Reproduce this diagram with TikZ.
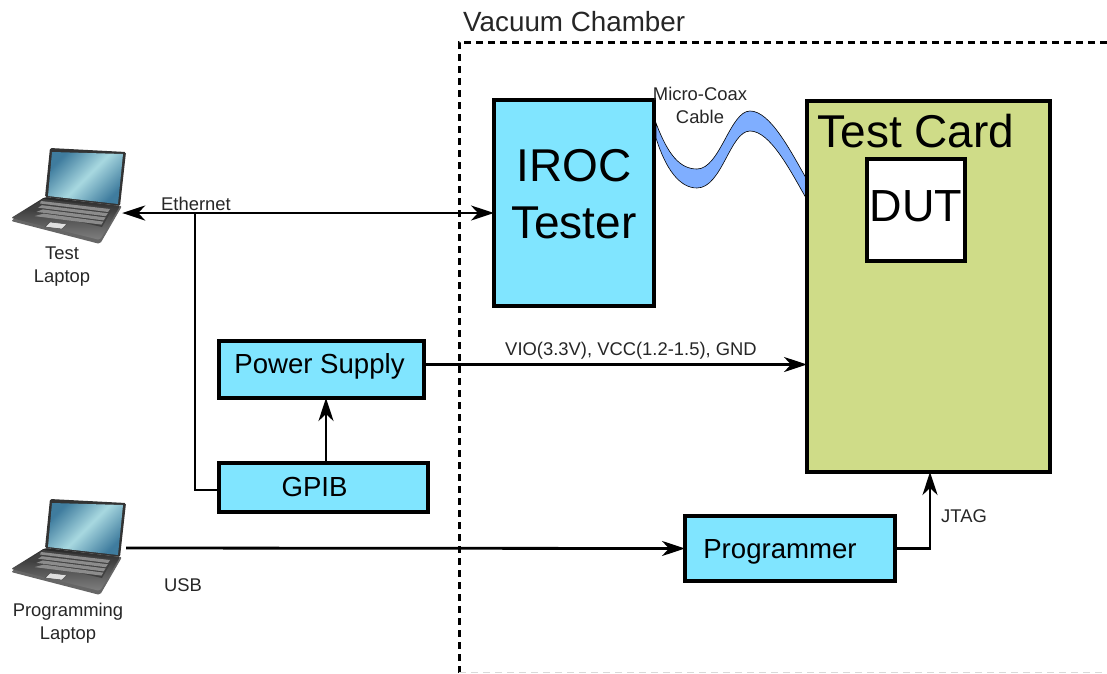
\documentclass[tikz,border=0pt]{standalone}
\usepackage{fontspec}
\setmainfont{Liberation Sans}
\usetikzlibrary{arrows.meta}

\definecolor{boxblue}{HTML}{80E5FF}
\definecolor{cardgreen}{HTML}{CFDC88}
\definecolor{coaxblue}{HTML}{7FAEFF}
\definecolor{screendark}{HTML}{3F7C9E}
\definecolor{screenpale}{HTML}{A8D8E0}

\newcommand{\fsize}[1]{\fontsize{#1}{1.25\dimexpr #1pt\relax}\selectfont}

\tikzset{
	box/.style={draw, line width=4.5pt, fill=boxblue, inner sep=0pt, outer sep=0pt},
	boxtext/.style={font=\fsize{27.6}, inner sep=0pt},
	small/.style={font=\fsize{18.4}, text=black!85, inner sep=0pt, align=center},
	link/.style={line width=2.8pt, >={Stealth[length=23pt, width=15pt, inset=7pt]}},
	laptop/.pic={
		\fill[black!80, rounded corners=1.5pt] (50,0) -- (126,4) -- (120,58) -- (45,49) -- cycle;
		\fill[black!60, rounded corners=2pt] (11,73) -- (100,96) -- (122,58) -- (45,49) -- cycle;
		\shade[top color=black!85, bottom color=black!50, rounded corners=2pt]
			(45,49) -- (120,58) -- (100,92) -- (11,70) -- cycle;
		\shade[top color=screendark, bottom color=screendark, middle color=screenpale, shading angle=45]
			(52,4) -- (123,6) -- (118,56) -- (48,48) -- cycle;
		\fill[black!75] (43,51) -- (113,60) -- (102,79) -- (27,62) -- cycle;
		\foreach \i in {0,1,2,3} {
			\fill[black!45] ({43+\i*0.9-2},{53+\i*4.2}) -- ({110-\i*2.2},{61+\i*4.2}) -- ({108-\i*2.2},{64+\i*4.2}) -- ({40-\i*1.8},{55.5+\i*4.2}) -- cycle;
		}
		\fill[black!12, draw=black!70, line width=0.5pt] (50,74) -- (67,76) -- (62,81) -- (45,79) -- cycle;
	}
}

\begin{document}
\begin{tikzpicture}[x=1pt, y=-1pt]
	\useasboundingbox (0,0) rectangle (1107,673);

	% chamber outline
	\draw[line width=3pt, dash pattern=on 7pt off 5pt] (1107,42) -- (459,42) -- (459,673);
	\draw[black!15, line width=1pt, dash pattern=on 7pt off 5pt] (459,672) -- (1107,672);
	\node[font=\fsize{27.8}, text=black!85, anchor=west, inner sep=0pt] (chamber) at (463,22) {Vacuum Chamber};

	% coax runs under the two boxes
	\draw[fill=coaxblue, line width=0.6pt] (656,123) .. controls (668,155) and (680,169) .. (697,169)
		.. controls (720,169) and (730,111) .. (750,111)
		.. controls (770,111) and (790,150) .. (806,178) -- (806,198)
		.. controls (790,170) and (770,131) .. (750,131)
		.. controls (730,131) and (722,188) .. (697,188)
		.. controls (680,188) and (666,170) .. (656,138) -- cycle;

	\node[box, minimum width=160pt, minimum height=206pt,
		label={[font=\fsize{46}, align=center, inner sep=0pt, shift={(0,-9)}]center:IROC\\Tester}] (iroc) at (574,203) {};
	\node[box, fill=cardgreen, minimum width=243pt, minimum height=371pt] (card) at (928.5,286.5) {};
	\node[font=\fsize{46}, inner sep=0pt] (cardtext) at (916,131) {Test Card};
	\node[box, fill=white, minimum width=98pt, minimum height=102pt] (dut) at (916,210) {};
	\node[font=\fsize{45}, inner sep=0pt] (duttext) at (916,206) {DUT};

	\node[box, minimum width=205pt, minimum height=57pt,
		label={[boxtext, shift={(-2,-3)}]center:Power Supply}] (power) at (321.5,369.5) {};
	\node[box, minimum width=209pt, minimum height=49pt,
		label={[boxtext, shift={(-9,-1)}]center:GPIB}] (gpib) at (323.5,487.5) {};
	\node[box, minimum width=210pt, minimum height=65pt,
		label={[boxtext, shift={(-10,3)}]center:Programmer}] (prog) at (790,548.5) {};

	% laptops
	\pic at (0,148) {laptop};
	\pic at (0,499) {laptop};
	\node[minimum width=111pt, inner sep=0pt] (testpc) at (66.5,213) {};
	\node[minimum width=115pt, inner sep=0pt] (progpc) at (68.5,548) {};
	\node[small] (testlabel) at (62,267) {Test\\Laptop};
	\node[small] (proglabel) at (68,623) {Programming\\Laptop};

	% links
	\coordinate (tap) at (195,213);
	\coordinate (feed) at ([xshift=2.5pt]gpib.north);
	\draw[link, <->] (testpc.east) -- (testpc.east -| iroc.west);
	\draw[link] (tap) |- ([yshift=-2.5pt]gpib.west);
	\draw[link, ->] (feed) -- (feed |- power.south);
	\draw[link, ->] ([yshift=5pt]power.east) -- ([yshift=5pt]power.east -| card.west);
	\draw[link, ->] (progpc.east) -- (prog.west);
	\draw[link, ->] (prog.east) -| ([xshift=1.5pt]card.south);

	\node[small] (ethernet) at (196,204) {Ethernet};
	\node[small] (usb) at (183,585) {USB};
	\node[small] (coax) at (700,105) {Micro-Coax\\Cable};
	\node[small] (rails) at (631,351) {VIO(3.3V), VCC(1.2-1.5), GND};
	\node[small] (jtag) at (964,516) {JTAG};
\end{tikzpicture}
\end{document}
